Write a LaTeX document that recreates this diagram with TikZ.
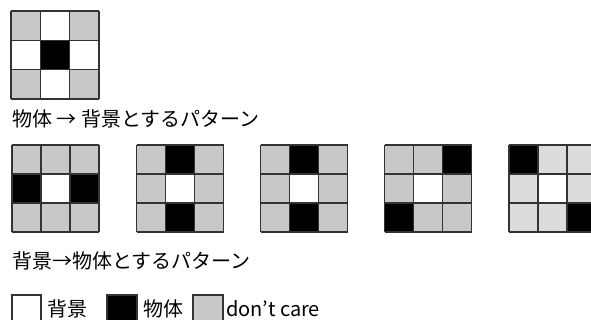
\documentclass[tikz,border=0pt]{standalone}
\usepackage{fontspec}
\setmainfont{Noto Sans CJK JP}
\definecolor{G}{HTML}{C8C8C8}
\definecolor{L}{HTML}{DCDCDC}
\definecolor{W}{HTML}{FFFFFF}
\definecolor{B}{HTML}{000000}
\definecolor{lineC}{HTML}{333333}
\tikzset{
  gridline/.style={draw=lineC, line width=1.3pt},
  label/.style={anchor=west, inner sep=0pt, font=\fontsize{20}{20}\selectfont},
  legendbox/.style={draw=lineC, line width=1.3pt}
}
\newcommand{\pgrid}[4]{%
  \foreach \c [count=\i from 0] in {#4} {
    \pgfmathtruncatemacro\rr{\i/3}
    \pgfmathtruncatemacro\kk{mod(\i,3)}
    \fill[\c] ({#1+\kk*#3},{#2+\rr*#3}) rectangle ++(#3,#3);
  }
  \foreach \j in {0,1,2,3} {
    \draw[gridline] ({#1+\j*#3},#2) -- ++(0,3*#3);
    \draw[gridline] (#1,{#2+\j*#3}) -- ++(3*#3,0);
  }
}
\begin{document}
\begin{tikzpicture}[x=1pt,y=-1pt]
\useasboundingbox (0,0) rectangle (591,320);
% top pattern
\pgrid{11}{11}{29.33}{G,W,G,W,B,W,G,W,G}
\node[label] (l1) at (12,118.5) {物体 → 背景とするパターン};
% second row
\pgrid{12}{145}{29}{G,G,G,B,W,B,G,G,G}
\pgrid{136.5}{145}{29}{G,B,G,G,W,G,G,B,G}
\pgrid{260.5}{145}{29}{G,B,G,G,W,G,G,B,G}
\pgrid{384.5}{145}{29}{G,G,B,G,W,G,B,G,G}
\pgrid{509}{145}{29}{B,L,L,L,W,L,L,L,B}
\node[label] (l2) at (12,261) {背景→物体とするパターン};
% legend
\draw[legendbox, fill=white] (12,295) rectangle (41,324);
\node[label] (t1) at (47,309) {背景};
\draw[legendbox, fill=black] (107,295) rectangle (137,324);
\node[label] (t2) at (143,309) {物体};
\draw[legendbox, fill=G] (193,295) rectangle (223,324);
\node[label] (t3) at (226,309) {don’t care};
\end{tikzpicture}
\end{document}
